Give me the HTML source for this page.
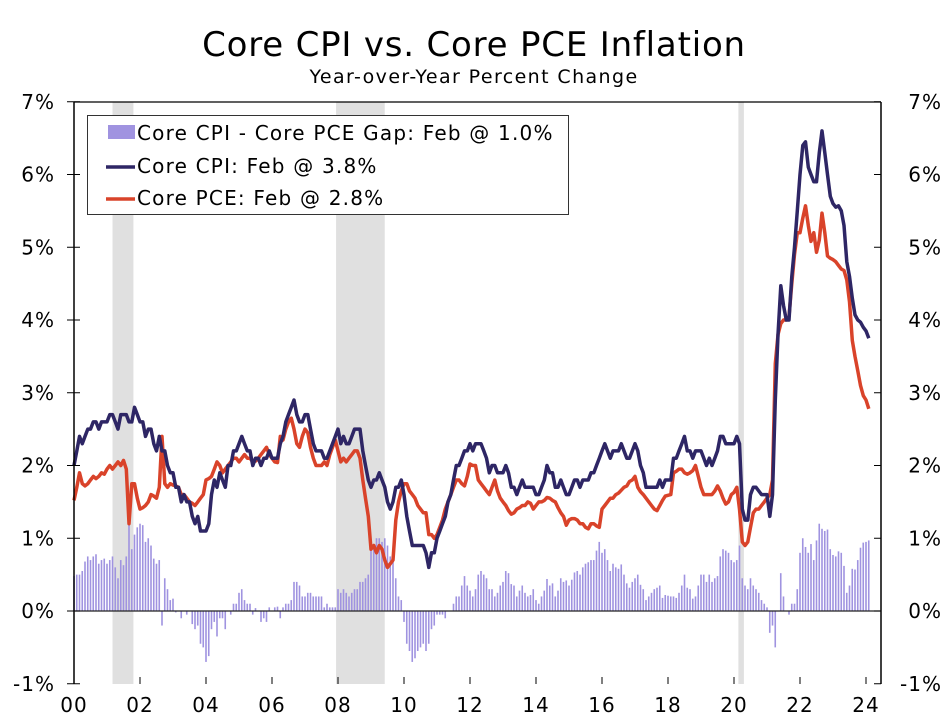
<!DOCTYPE html>
<html><head><meta charset="utf-8"><style>
body{margin:0;background:#fff;}
svg{display:block;font-family:"DejaVu Sans","Liberation Sans",sans-serif;}
</style></head><body>
<svg id="chart" width="949" height="727" viewBox="0 0 949 727">
<text x="474" y="56" font-size="34" letter-spacing="0.8" text-anchor="middle" fill="#000">Core CPI vs. Core PCE Inflation</text>
<text x="474" y="83" font-size="19" letter-spacing="1.4" text-anchor="middle" fill="#000">Year-over-Year Percent Change</text>
<g id="rec"></g>
<g id="bars"></g>
<g id="lines"></g>
<g id="axes"></g>
<g>
<rect x="87.5" y="115.5" width="481" height="99" fill="#fff" stroke="#333" stroke-width="1"/>
<rect x="108" y="125" width="27" height="14" fill="#a093e0"/>
<text x="137" y="140" font-size="20" letter-spacing="1.2">Core CPI - Core PCE Gap: Feb @ 1.0%</text>
<line x1="106" y1="167" x2="135" y2="167" stroke="#2e2665" stroke-width="3.5"/>
<text x="137" y="173" font-size="20" letter-spacing="1.2">Core CPI: Feb @ 3.8%</text>
<line x1="106" y1="199" x2="135" y2="199" stroke="#d9432a" stroke-width="3.5"/>
<text x="137" y="205" font-size="20" letter-spacing="1.2">Core PCE: Feb @ 2.8%</text>
</g>
</svg>
<script>
// monthly data Jan 2000 .. Feb 2024
const cpi = [
2.0,2.2,2.4,2.3,2.4,2.5,2.5,2.6,2.6,2.5,2.6,2.6,
2.6,2.7,2.7,2.6,2.5,2.7,2.7,2.7,2.6,2.6,2.8,2.7,
2.6,2.6,2.4,2.5,2.5,2.3,2.2,2.4,2.2,2.2,2.0,1.9,
1.9,1.7,1.7,1.5,1.6,1.5,1.5,1.3,1.2,1.3,1.1,1.1,
1.1,1.2,1.6,1.8,1.7,1.9,1.8,1.7,2.0,2.0,2.2,2.2,
2.3,2.4,2.3,2.2,2.2,2.0,2.1,2.1,2.0,2.1,2.1,2.2,
2.1,2.1,2.1,2.3,2.4,2.6,2.7,2.8,2.9,2.7,2.6,2.6,
2.7,2.7,2.5,2.3,2.2,2.2,2.2,2.1,2.1,2.2,2.3,2.4,
2.5,2.3,2.4,2.3,2.3,2.4,2.5,2.5,2.5,2.2,2.0,1.8,
1.7,1.8,1.8,1.9,1.8,1.7,1.5,1.4,1.5,1.7,1.7,1.8,
1.6,1.3,1.1,0.9,0.9,0.9,0.9,0.9,0.8,0.6,0.8,0.8,
1.0,1.1,1.2,1.3,1.5,1.6,1.8,2.0,2.0,2.1,2.2,2.2,
2.3,2.2,2.3,2.3,2.3,2.2,2.1,1.9,2.0,2.0,1.9,1.9,
1.9,2.0,1.9,1.7,1.7,1.6,1.7,1.8,1.7,1.7,1.7,1.7,
1.6,1.6,1.7,1.8,2.0,1.9,1.9,1.7,1.7,1.8,1.7,1.6,
1.6,1.7,1.8,1.8,1.7,1.8,1.8,1.8,1.9,1.9,2.0,2.1,
2.2,2.3,2.2,2.1,2.2,2.2,2.2,2.3,2.2,2.1,2.1,2.2,
2.3,2.2,2.0,1.9,1.7,1.7,1.7,1.7,1.7,1.8,1.7,1.8,
1.8,1.8,2.1,2.1,2.2,2.3,2.4,2.2,2.2,2.1,2.2,2.2,
2.2,2.1,2.0,2.1,2.0,2.1,2.2,2.4,2.4,2.3,2.3,2.3,
2.3,2.4,2.3,1.4,1.25,1.25,1.6,1.7,1.7,1.65,1.6,1.6,
1.6,1.3,1.6,2.9,3.8,4.47,4.2,4.0,4.0,4.6,5.0,5.5,
6.0,6.4,6.45,6.1,6.0,5.9,5.9,6.3,6.6,6.3,6.0,5.7,
5.6,5.55,5.57,5.5,5.3,4.8,4.6,4.3,4.07,4.0,3.97,3.9,
3.85,3.75];
const pce = [
1.52,1.7,1.9,1.75,1.72,1.75,1.8,1.85,1.82,1.85,1.9,1.88,
1.95,2.0,1.95,2.0,2.05,2.0,2.07,1.95,1.2,1.75,1.75,1.55,
1.4,1.42,1.45,1.5,1.6,1.58,1.55,1.7,2.4,1.75,1.7,1.75,
1.73,1.72,1.7,1.6,1.6,1.55,1.5,1.48,1.45,1.5,1.55,1.6,
1.8,1.82,1.85,1.95,2.05,2.0,1.9,1.95,2.0,2.05,2.1,2.1,
2.05,2.1,2.15,2.1,2.1,2.05,2.06,2.1,2.15,2.2,2.25,2.15,
2.1,2.05,2.04,2.4,2.35,2.5,2.6,2.65,2.5,2.3,2.25,2.4,
2.5,2.45,2.25,2.1,2.0,2.0,2.0,2.05,2.0,2.15,2.25,2.35,
2.2,2.05,2.1,2.05,2.1,2.15,2.2,2.2,2.1,1.8,1.55,1.3,
0.85,0.9,0.8,0.9,0.85,0.7,0.6,0.65,0.7,1.25,1.5,1.65,
1.75,1.75,1.65,1.6,1.55,1.45,1.4,1.35,1.35,1.05,1.05,1.0,
1.05,1.15,1.25,1.4,1.5,1.6,1.7,1.8,1.8,1.75,1.72,1.85,
2.02,2.0,2.0,1.8,1.75,1.7,1.65,1.6,1.7,1.8,1.65,1.55,
1.5,1.45,1.38,1.33,1.35,1.4,1.42,1.45,1.45,1.5,1.48,1.4,
1.45,1.5,1.5,1.52,1.56,1.55,1.52,1.5,1.42,1.35,1.3,1.18,
1.25,1.27,1.27,1.25,1.2,1.2,1.15,1.13,1.2,1.2,1.17,1.15,
1.4,1.45,1.5,1.55,1.55,1.6,1.62,1.66,1.7,1.72,1.78,1.8,
1.85,1.7,1.64,1.6,1.55,1.5,1.45,1.4,1.38,1.45,1.52,1.58,
1.59,1.6,1.9,1.92,1.95,1.95,1.9,1.88,1.9,1.93,2.0,1.85,
1.7,1.6,1.6,1.6,1.6,1.65,1.72,1.65,1.55,1.47,1.5,1.6,
1.63,1.7,1.4,0.95,0.9,0.95,1.15,1.35,1.4,1.4,1.45,1.5,
1.55,1.6,1.8,3.4,3.8,3.95,4.0,4.0,4.05,4.5,4.9,5.2,
5.2,5.4,5.57,5.3,5.08,5.2,4.93,5.1,5.47,5.2,4.88,4.85,
4.83,4.8,4.75,4.7,4.68,4.55,4.25,3.72,3.5,3.3,3.1,2.96,
2.9,2.78];
const yTicks = [-1,0,1,2,3,4,5,6,7];
const xTickLabels = ["00","02","04","06","08","10","12","14","16","18","20","22","24"];
const recessionStarts = [14, 95.3, 241.6];
const recessionEnds = [21.6, 113, 243.6];

const NS = "http://www.w3.org/2000/svg";
const L = 74, R = 881, T = 102, B = 684;
const xs = m => L + m * 2.75;
const ys = v => 611 - v * 72.75;
function mk(tag, attrs, parent){ const e=document.createElementNS(NS,tag); for(const k in attrs) e.setAttribute(k,attrs[k]); parent.appendChild(e); return e; }
const rec = document.getElementById('rec'), bars=document.getElementById('bars'), lines=document.getElementById('lines'), axes=document.getElementById('axes');

recessionStarts.forEach((s,i)=>{
  const r = mk('rect',{x:xs(s),y:T,width:xs(recessionEnds[i])-xs(s),height:B-T,fill:'#e0e0e0'},rec);
  
  
});
cpi.forEach((c,i)=>{
  const g = c - pce[i];
  const y0 = ys(0), y1 = ys(g);
  const b = mk('rect',{x:xs(i)-0.8,y:Math.min(y0,y1),width:1.6,height:Math.max(0.5,Math.abs(y1-y0)),fill:'#a093e0'},bars);
  
  
});
function line(arr,color,name){
  const p = mk('path',{d:arr.map((v,i)=>(i?'L':'M')+xs(i).toFixed(1)+' '+ys(v).toFixed(1)).join(' '),fill:'none',stroke:color,'stroke-width':3.5,'stroke-linejoin':'round'},lines);
  
  
}
line(pce,'#d9432a','core-pce-line');
line(cpi,'#2e2665','core-cpi-line');

mk('line',{x1:L,y1:T,x2:R,y2:T,stroke:'#000','stroke-width':1.2},axes);
mk('line',{x1:L,y1:T,x2:L,y2:B,stroke:'#000','stroke-width':1.5},axes);
mk('line',{x1:R,y1:T,x2:R,y2:B,stroke:'#000','stroke-width':1.5},axes);
mk('line',{x1:L,y1:ys(0),x2:R,y2:ys(0),stroke:'#222','stroke-width':1.2},axes);
yTicks.forEach(v=>{
  const y = ys(v);
  mk('line',{x1:L-7,y1:y,x2:L+6,y2:y,stroke:'#000'},axes);
  mk('line',{x1:R-7,y1:y,x2:R,y2:y,stroke:'#000'},axes);
  const t1 = mk('text',{x:55,y:y+7,'font-size':20,'letter-spacing':1,'text-anchor':'end'},axes); t1.textContent=v+'%';
  
  
  const t2 = mk('text',{x:942,y:y+7,'font-size':20,'letter-spacing':1,'text-anchor':'end'},axes); t2.textContent=v+'%';
  
  
});
xTickLabels.forEach((lab,i)=>{
  const x = xs(i*24);
  mk('line',{x1:x,y1:B-7,x2:x,y2:B,stroke:'#000'},axes);
  const t = mk('text',{x:x,y:712,'font-size':20,'letter-spacing':1,'text-anchor':'middle'},axes); t.textContent=lab;
  
  
});
</script>
</body></html>
